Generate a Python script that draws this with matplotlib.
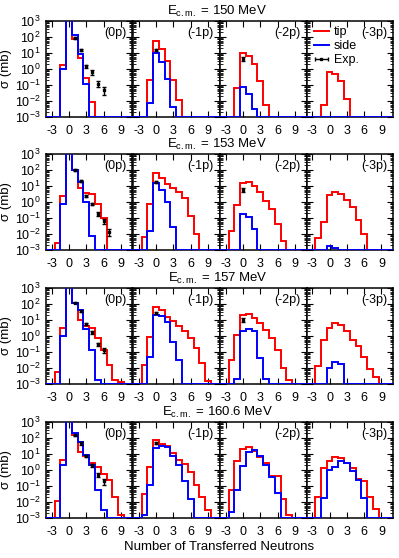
import numpy as np
import matplotlib
matplotlib.use('Agg')
import matplotlib.pyplot as plt
from matplotlib.ticker import LogLocator, FixedLocator, NullFormatter, LogFormatterSciNotation
from matplotlib.lines import Line2D

plt.rcParams['font.family'] = ['Liberation Sans', 'DejaVu Sans']
plt.rcParams['mathtext.fontset'] = 'custom'
plt.rcParams['mathtext.rm'] = 'Liberation Sans'
plt.rcParams['mathtext.it'] = 'Liberation Sans:italic'
plt.rcParams['axes.unicode_minus'] = False

# ---------------- data ----------------
energies = ['150', '153', '157', '160.6']
channels = ['(0p)', '(-1p)', '(-2p)', '(-3p)']
N = list(range(-3, 11))          # transferred neutrons (bin centres)
xticks = [-3, 0, 3, 6, 9]

# tip (red) and side (blue) orientations, one list per channel, N = -3..10
tip_150 = [
    [0, 0, 1.9, 1e4, 78, 5.1, 0.27, 0.0087, 0, 0, 0, 0, 0, 0],
    [0, 0, 0.2, 60, 19, 3.2, 0.22, 0.012, 0, 0, 0, 0, 0, 0],
    [0, 0, 0.068, 10, 6.2, 2.2, 0.17, 0.006, 0, 0, 0, 0, 0, 0],
    [0, 0, 0.006, 0.65, 0.5, 0.17, 0.013, 0, 0, 0, 0, 0, 0, 0],
]
side_150 = [
    [0, 0, 0.95, 1e4, 140, 9, 0.12, 0, 0, 0, 0, 0, 0, 0],
    [0, 0, 0.008, 10, 2.7, 0.24, 0.0045, 0, 0, 0, 0, 0, 0, 0],
    [0, 0, 0, 0.07, 0.026, 0.003, 0, 0, 0, 0, 0, 0, 0, 0],
    [0, 0, 0, 0, 0, 0, 0, 0, 0, 0, 0, 0, 0, 0],
]
tip_153 = [
    [0, 0.0026, 2.4, 1e4, 100, 8, 3.5, 3, 0.8, 0.1, 0, 0, 0, 0],
    [0, 0.0068, 0.7, 68, 30, 14, 8, 4.5, 1.8, 0.13, 0.01, 0, 0, 0],
    [0, 0.015, 0.65, 16, 18, 10, 4.3, 1.1, 0.35, 0.04, 0.0035, 0, 0, 0],
    [0, 0.006, 0.055, 2.7, 4.3, 3.3, 1.4, 0.5, 0.075, 0.0095, 0, 0, 0, 0],
]
side_153 = [
    [0, 0, 0.8, 1e4, 100, 18, 1, 0.008, 0, 0, 0, 0, 0, 0],
    [0, 0, 0.015, 15, 5.6, 1, 0.026, 0, 0, 0, 0, 0, 0, 0],
    [0, 0, 0, 0.18, 0.12, 0.022, 0, 0, 0, 0, 0, 0, 0, 0],
    [0, 0, 0, 0.0017, 0.0013, 0, 0, 0, 0, 0, 0, 0, 0, 0],
]
tip_157 = [
    [0, 0.006, 3, 1e4, 110, 10, 4, 3.3, 0.7, 0.13, 0.015, 0.0018, 0.0013, 0],
    [0, 0.016, 0.9, 68, 40, 15, 8.5, 4.5, 2.2, 0.75, 0.19, 0.02, 0.0016, 0],
    [0, 0.03, 1.1, 20, 24, 14, 6.2, 2.4, 0.7, 0.13, 0.01, 0.0018, 0, 0],
    [0, 0.013, 0.56, 3.2, 6.2, 4.9, 2.1, 0.56, 0.24, 0.046, 0.009, 0.0026, 0, 0],
]
side_157 = [
    [0, 0, 1, 1e4, 110, 45, 2.8, 0.13, 0.0018, 0, 0, 0, 0, 0],
    [0, 0, 0.05, 20, 17, 8, 0.45, 0.03, 0, 0, 0, 0, 0, 0],
    [0, 0, 0.0022, 2.1, 2.6, 2, 0.045, 0.0022, 0, 0, 0, 0, 0, 0],
    [0, 0, 0, 0.01, 0.025, 0.017, 0, 0, 0, 0, 0, 0, 0, 0],
]
tip_160 = [
    [0, 0.012, 4.2, 1e4, 150, 14, 7.5, 2.6, 1.6, 0.56, 0.24, 0.022, 0.0016, 0],
    [0, 0.03, 1.6, 80, 45, 30, 11, 4.2, 2.3, 0.8, 0.12, 0.02, 0.003, 0],
    [0, 0.06, 3.8, 20, 26, 16, 6.2, 2.9, 0.42, 0.4, 0.015, 0.0016, 0, 0],
    [0, 0.02, 1.3, 3.8, 6.8, 5.3, 2.9, 1.3, 0.26, 0.2, 0.02, 0.0035, 0, 0],
]
side_160 = [
    [0, 0, 2, 1e4, 200, 55, 9, 2, 0.06, 0.003, 0, 0, 0, 0],
    [0, 0.0015, 0.11, 25, 30, 28, 7.5, 2, 0.2, 0.015, 0, 0, 0, 0],
    [0, 0.0025, 0.06, 1.8, 14, 18, 7.5, 2, 0.38, 0.035, 0, 0, 0, 0],
    [0, 0, 0.018, 1, 1.6, 3.6, 2.6, 0.9, 0.24, 0.017, 0, 0, 0, 0],
]

# experimental points: channel index, N, value, error
exp_150_N = [1, 2, 3, 4, 5, 6, 0, 0]
exp_150_ch = [0, 0, 0, 0, 0, 0, 1, 2]
exp_150_val = [87, 16, 1.5, 0.65, 0.12, 0.05, 16, 4.4]
exp_150_err = [10, 2.5, 0.3, 0.2, 0.05, 0.025, 3, 1.2]

exp_153_N = [1, 2, 3, 4, 5, 6, 7, 0, 0]
exp_153_ch = [0, 0, 0, 0, 0, 0, 0, 1, 2]
exp_153_val = [100, 20, 2.4, 0.75, 0.18, 0.065, 0.014, 18, 5.6]
exp_153_err = [10, 3, 0.4, 0.12, 0.05, 0.025, 0.007, 3, 1.5]

exp_157_N = [1, 2, 3, 4, 5, 6, 0, 0]
exp_157_ch = [0, 0, 0, 0, 0, 0, 1, 2]
exp_157_val = [120, 36, 5.6, 1.7, 0.3, 0.13, 28, 10]
exp_157_err = [12, 5, 0.8, 0.3, 0.07, 0.04, 5, 2.5]

exp_160_N = [1, 2, 3, 4, 5, 6, 0]
exp_160_ch = [0, 0, 0, 0, 0, 0, 1]
exp_160_val = [150, 46, 7.5, 2, 0.5, 0.2, 48]
exp_160_err = [15, 7, 1.2, 0.5, 0.15, 0.08, 8]

tips = [tip_150, tip_153, tip_157, tip_160]
sides = [side_150, side_153, side_157, side_160]
exps = [
    (exp_150_ch, exp_150_N, exp_150_val, exp_150_err),
    (exp_153_ch, exp_153_N, exp_153_val, exp_153_err),
    (exp_157_ch, exp_157_N, exp_157_val, exp_157_err),
    (exp_160_ch, exp_160_N, exp_160_val, exp_160_err),
]

# ---------------- figure ----------------
W, H = 399, 558
fig = plt.figure(figsize=(W / 100, H / 100), dpi=100)

col_left = [46, 133, 220, 306.5]
col_w = 86.5
row_top = [21, 154, 288, 422]
row_h = 96

YMIN, YMAX = 1e-3, 1e3
XMIN, XMAX = -4, 11
FLOOR = YMIN

Nfull = np.arange(-4, 12)
edges = np.concatenate([Nfull - 0.5, [Nfull[-1] + 0.5]])

def padded(vals):
    v = np.concatenate([[0.0], np.asarray(vals, float), [0.0]])
    return np.clip(v, FLOOR, None)

RED = '#ff0000'
BLUE = '#0000ff'
FS = 9

for r in range(4):
    for c in range(4):
        ax = fig.add_axes([col_left[c] / W, 1 - (row_top[r] + row_h) / H,
                           col_w / W, row_h / H])
        ax.set_yscale('log')
        ax.set_xlim(XMIN, XMAX)
        ax.set_ylim(YMIN, YMAX)
        ax.stairs(padded(tips[r][c]), edges, baseline=None,
                  color=RED, lw=1.4, zorder=3)
        ax.stairs(padded(sides[r][c]), edges, baseline=None,
                  color=BLUE, lw=1.4, zorder=4)
        ch, en, ev, ee = exps[r]
        xs = [n for k, n in zip(ch, en) if k == c]
        ys = [v for k, v in zip(ch, ev) if k == c]
        es = [e for k, e in zip(ch, ee) if k == c]
        if xs:
            ax.errorbar(xs, ys, yerr=es, fmt='s', color='black', ms=2.0,
                        elinewidth=1.0, capsize=1.4, capthick=1.0, zorder=5)
        ax.text(0.935, 0.875, channels[c], transform=ax.transAxes,
                ha='right', va='center', fontsize=FS)

        for s in ax.spines.values():
            s.set_linewidth(1.1)
            s.set_zorder(2.5)
        ax.yaxis.set_major_locator(LogLocator(base=10, numticks=10))
        ax.yaxis.set_minor_locator(LogLocator(base=10, subs=np.arange(2, 10), numticks=10))
        ax.yaxis.set_minor_formatter(NullFormatter())
        ax.xaxis.set_major_locator(FixedLocator(xticks))
        ax.tick_params(axis='both', which='major', direction='in', length=4,
                       width=0.8, top=True, right=True, labelsize=FS)
        ax.tick_params(axis='x', which='major', pad=6)
        ax.tick_params(axis='y', which='major', pad=4)
        ax.tick_params(axis='y', which='minor', direction='in', length=2,
                       width=0.6, right=True)
        ax.tick_params(axis='x', which='minor', bottom=False, top=False)
        if c == 0:
            ax.yaxis.set_major_formatter(LogFormatterSciNotation())
            ax.set_ylabel('σ (mb)', fontsize=9.5, labelpad=2)
        else:
            ax.yaxis.set_major_formatter(NullFormatter())
        if r == 0 and c == 3:
            hexp = ax.errorbar([np.nan], [np.nan], xerr=[1], fmt='s', color='black',
                               ms=2.0, elinewidth=1.0, capsize=1.4)
            lt = Line2D([], [], color=RED, lw=1.4)
            ls = Line2D([], [], color=BLUE, lw=1.4)
            ax.legend([lt, ls, hexp], ['tip', 'side', 'Exp.'], loc='upper left',
                      bbox_to_anchor=(-0.04, 1.06), frameon=False, fontsize=FS,
                      handlelength=1.15, handletextpad=0.4, labelspacing=0.15,
                      borderpad=0.4)

    fig.text(0.545, 1 - (row_top[r] - 10) / H,
             r'E$_{\mathdefault{c.m.}}$ = ' + energies[r] + ' MeV',
             ha='center', va='center', fontsize=9.5)

fig.text(0.55, 1 - 547 / H, 'Number of Transferred Neutrons',
         ha='center', va='center', fontsize=9.5)

fig.savefig('out.png', dpi=100)
